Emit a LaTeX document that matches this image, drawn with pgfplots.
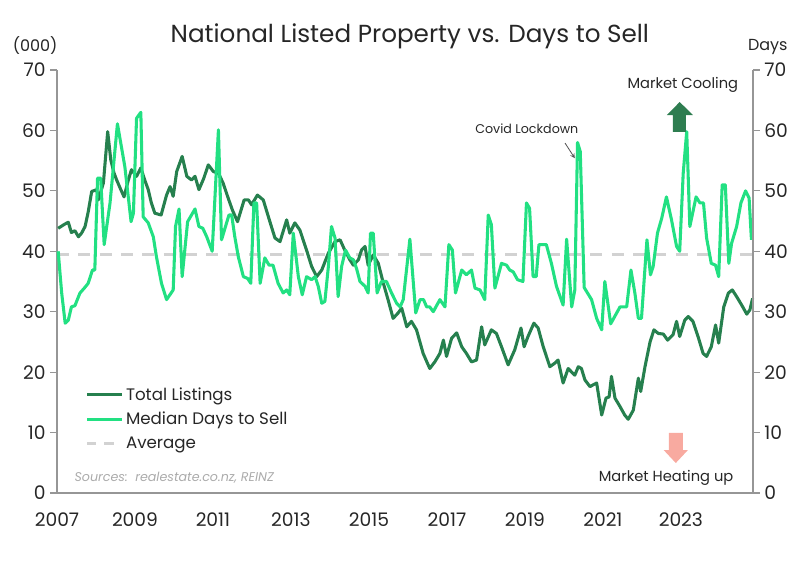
\documentclass[border=0pt]{standalone}
\usepackage{fontspec}
\setmainfont{Poppins}
\usepackage{pgfplots}
\pgfplotsset{compat=1.18}
\definecolor{dk}{RGB}{38,128,78}
\definecolor{lt}{RGB}{34,224,130}
\definecolor{avg}{RGB}{210,210,210}
\definecolor{axg}{RGB}{150,150,150}
\definecolor{txt}{RGB}{38,38,38}
\definecolor{uparrow}{RGB}{46,125,80}
\definecolor{dnarrow}{RGB}{248,170,160}
\begin{document}
\begin{tikzpicture}
\begin{axis}[name=ax,
  width=522pt, height=317.25pt, scale only axis,
  xmin=2007, xmax=2024.85, ymin=0, ymax=70,
  axis x line*=bottom, axis y line*=left,
  axis line style={draw=axg, line width=0.8pt},
  xtick={2007,2009,...,2023}, ytick={0,10,...,70},
  xtick style={draw=none},
  ytick style={draw=axg, line width=0.8pt},
  tick align=outside, major tick length=5pt,
  /pgf/number format/1000 sep={},
  /pgf/number format/assume math mode=true,
  ticklabel style={font=\fontsize{14}{16}\selectfont, text=txt},
  xticklabel style={yshift=-6pt},
  clip=false,
  legend style={at={(0.035,0.263)}, anchor=north west, draw=none, fill=none,
     font=\fontsize{12.5}{15}\selectfont, text=txt, row sep=3.5pt},
  legend cell align=left,
  legend image code/.code={\draw[#1] (0pt,0pt) -- (26pt,0pt);},
]
\addplot[avg, line width=2.2pt, dash pattern=on 9pt off 7pt, forget plot] coordinates {(2007,39.4) (2024.85,39.4)};
\addplot[dk, line width=2.3pt, line join=round] coordinates {
(2007.03,43.8) (2007.20,44.5) (2007.29,44.8) (2007.37,43.1) (2007.46,43.4) (2007.55,42.4) (2007.63,43.0) (2007.72,44.1) (2007.80,46.5) (2007.89,49.9)
(2008.02,50.2) (2008.06,48.5) (2008.19,51.3) (2008.30,59.8) (2008.38,55.1) (2008.46,53.0) (2008.53,51.8) (2008.63,50.3) (2008.72,49.0) (2008.83,51.8) (2008.91,53.5)
(2009.04,52.4) (2009.15,53.8) (2009.25,51.8) (2009.34,50.2) (2009.42,48.0) (2009.51,46.3) (2009.67,46.0) (2009.81,49.3) (2009.90,50.7) (2009.98,49.1)
(2010.07,53.2) (2010.21,55.7) (2010.33,52.4) (2010.45,51.8) (2010.54,52.4) (2010.64,50.2) (2010.76,52.0) (2010.88,54.3)
(2011.01,53.2) (2011.14,52.9) (2011.26,51.3) (2011.39,48.8) (2011.50,46.8) (2011.63,44.9) (2011.80,48.5) (2011.91,48.5) (2011.99,47.7)
(2012.14,49.3) (2012.29,48.5) (2012.46,44.9) (2012.59,42.2) (2012.72,41.6) (2012.89,45.2) (2012.97,43.0)
(2013.10,44.7) (2013.23,43.5) (2013.40,40.2) (2013.53,37.5) (2013.66,35.8) (2013.79,36.9) (2013.96,39.7)
(2014.13,41.6) (2014.26,41.9) (2014.38,40.2) (2014.51,38.6) (2014.60,37.7) (2014.73,38.6) (2014.81,40.2) (2014.90,40.8) (2014.98,37.7)
(2015.11,39.4) (2015.24,38.0) (2015.37,34.7) (2015.49,32.0) (2015.62,28.9) (2015.75,29.8) (2015.84,30.6) (2015.97,27.5)
(2016.09,28.4) (2016.22,27.0) (2016.39,23.1) (2016.56,20.6) (2016.69,21.7) (2016.82,23.1) (2016.91,25.3) (2016.99,22.6)
(2017.12,25.6) (2017.25,26.5) (2017.38,24.2) (2017.50,23.1) (2017.63,21.7) (2017.76,22.0) (2017.89,27.5) (2017.97,24.5)
(2018.14,27.0) (2018.27,26.4) (2018.40,24.2) (2018.57,21.2) (2018.74,23.7) (2018.90,27.3) (2018.98,24.2)
(2019.08,25.9) (2019.23,28.1) (2019.34,27.3) (2019.47,24.2) (2019.64,20.9) (2019.77,21.5) (2019.85,22.0) (2019.98,18.2)
(2020.11,20.6) (2020.20,20.0) (2020.28,19.5) (2020.37,20.9) (2020.45,20.6) (2020.54,18.7) (2020.67,17.6) (2020.75,17.9) (2020.84,18.2) (2020.97,12.9)
(2021.08,15.7) (2021.16,15.9) (2021.22,19.3) (2021.31,15.7) (2021.44,14.3) (2021.56,12.9) (2021.65,12.2) (2021.78,13.7) (2021.91,19.0) (2021.97,16.8)
(2022.08,20.9) (2022.21,25.0) (2022.31,27.0) (2022.42,26.4) (2022.55,26.3) (2022.66,25.3) (2022.80,26.2) (2022.89,28.4) (2022.97,25.9)
(2023.10,28.6) (2023.19,29.2) (2023.31,28.4) (2023.44,25.9) (2023.57,23.1) (2023.66,22.6) (2023.78,24.2) (2023.89,27.8) (2023.97,24.8)
(2024.10,30.8) (2024.22,33.1) (2024.32,33.6) (2024.43,32.5) (2024.56,31.1) (2024.69,29.6) (2024.77,30.3) (2024.84,32.2)
};
\addlegendentry{Total Listings}
\addplot[lt, line width=2.3pt, line join=round] coordinates {
(2007.03,40.0) (2007.12,33.1) (2007.21,28.1) (2007.29,28.6) (2007.37,30.8) (2007.46,31.0) (2007.59,33.1) (2007.70,33.9) (2007.80,34.7) (2007.91,36.9) (2007.97,36.9)
(2008.04,52.1) (2008.12,52.1) (2008.21,41.1) (2008.36,48.0) (2008.55,61.1) (2008.74,54.0) (2008.90,44.9) (2008.96,46.3)
(2009.04,62.0) (2009.15,63.0) (2009.21,45.7) (2009.34,44.7) (2009.47,42.4) (2009.55,39.1) (2009.68,34.7) (2009.81,32.0) (2009.98,33.6)
(2010.04,44.1) (2010.13,47.0) (2010.21,35.8) (2010.35,44.9) (2010.54,47.0) (2010.64,44.1) (2010.74,43.8) (2010.84,42.4) (2010.98,40.0)
(2011.14,60.1) (2011.22,41.9) (2011.41,46.0) (2011.48,46.0) (2011.56,42.4) (2011.65,39.1) (2011.78,35.8) (2011.89,35.5) (2011.97,34.7)
(2012.05,48.0) (2012.12,48.0) (2012.21,34.7) (2012.33,38.9) (2012.44,37.7) (2012.54,37.7) (2012.67,34.7) (2012.80,33.1) (2012.89,33.6) (2012.97,32.8)
(2013.06,43.0) (2013.19,35.8) (2013.29,32.8) (2013.40,35.8) (2013.53,35.3) (2013.62,35.8) (2013.70,34.2) (2013.79,31.4) (2013.87,31.7) (2013.96,37.5)
(2014.04,44.1) (2014.13,42.2) (2014.21,32.5) (2014.30,37.5) (2014.40,40.2) (2014.51,38.9) (2014.60,38.6) (2014.68,37.2) (2014.77,35.0) (2014.90,34.2) (2014.98,33.1)
(2015.04,43.0) (2015.11,43.0) (2015.21,33.1) (2015.32,35.0) (2015.45,35.0) (2015.58,33.1) (2015.71,31.4) (2015.80,30.8) (2015.88,32.0)
(2016.05,42.0) (2016.20,29.8) (2016.31,32.0) (2016.40,32.0) (2016.48,30.8) (2016.56,30.8) (2016.65,30.0) (2016.82,32.0) (2016.95,30.8)
(2017.05,41.1) (2017.14,40.2) (2017.22,33.1) (2017.38,36.9) (2017.50,36.1) (2017.63,36.9) (2017.72,33.9) (2017.85,33.6) (2017.97,32.0)
(2018.06,46.0) (2018.14,44.4) (2018.23,33.9) (2018.40,38.0) (2018.53,37.7) (2018.61,36.9) (2018.70,36.6) (2018.81,35.3) (2018.95,35.0)
(2019.04,48.0) (2019.12,47.1) (2019.21,35.8) (2019.29,35.8) (2019.36,41.1) (2019.55,41.1) (2019.68,38.0) (2019.81,34.2) (2019.98,31.1)
(2020.07,42.0) (2020.20,30.8) (2020.28,33.6) (2020.35,58.0) (2020.42,56.5) (2020.52,34.0) (2020.71,32.0) (2020.84,28.9) (2020.97,27.0)
(2021.05,35.0) (2021.20,28.0) (2021.44,30.8) (2021.61,30.8) (2021.72,36.9) (2021.82,33.1) (2021.91,28.9) (2021.99,28.9)
(2022.13,41.9) (2022.22,36.1) (2022.29,37.5) (2022.40,43.0) (2022.51,45.5) (2022.63,49.0) (2022.76,45.2) (2022.89,40.8) (2022.97,40.0)
(2023.06,52.9) (2023.15,59.8) (2023.23,44.1) (2023.39,49.0) (2023.49,48.0) (2023.58,48.0) (2023.66,42.2) (2023.78,38.0) (2023.89,37.7) (2023.97,35.8)
(2024.06,51.0) (2024.14,51.0) (2024.23,38.0) (2024.30,41.3) (2024.43,44.1) (2024.54,48.0) (2024.66,50.0) (2024.75,48.8) (2024.81,41.9)
};
\addlegendentry{Median Days to Sell}
\addlegendimage{avg, line width=2.2pt, dash pattern=on 7pt off 6pt}
\addlegendentry{Average}
% annotations
\node[font=\fontsize{18.5}{20}\selectfont, text=txt] at (axis cs:2016.05,75.5) {National Listed Property vs. Days to Sell};
\node[font=\fontsize{12}{14}\selectfont, text=txt] at (axis cs:2006.44,74.1) {(000)};
\node[font=\fontsize{12}{14}\selectfont, text=txt] at (axis cs:2025.23,73.8) {Days};
\node[font=\fontsize{11}{13}\selectfont, text=txt] at (axis cs:2023.05,67.5) {Market Cooling};
\node[font=\fontsize{11}{13}\selectfont, text=txt] at (axis cs:2022.62,2.5) {Market Heating up};
\node[font=\fontsize{9.5}{11}\selectfont, text=txt] at (axis cs:2019.05,60.2) {Covid Lockdown};
\node[font=\itshape\fontsize{9.5}{11}\selectfont, text=axg!80, anchor=west] at (axis cs:2007.33,2.6) {Sources:\ \ realestate.co.nz, REINZ};
\draw[->, >=stealth, txt!80, line width=0.6pt] (axis cs:2020.03,57.9) -- (axis cs:2020.28,55.4);
\fill[uparrow] (axis cs:2022.795,59.74) -- (axis cs:2022.795,62.55) -- (axis cs:2022.64,62.55) -- (axis cs:2022.97,64.7) -- (axis cs:2023.31,62.55) -- (axis cs:2023.13,62.55) -- (axis cs:2023.13,59.74) -- cycle;
\fill[dnarrow] (axis cs:2022.69,9.93) -- (axis cs:2022.69,7.1) -- (axis cs:2022.56,7.1) -- (axis cs:2022.87,4.96) -- (axis cs:2023.18,7.1) -- (axis cs:2023.05,7.1) -- (axis cs:2023.05,9.93) -- cycle;
\end{axis}
\begin{axis}[
  width=522pt, height=317.25pt, scale only axis,
  xmin=2007, xmax=2024.85, ymin=0, ymax=70,
  axis x line=none, axis y line*=right,
  axis line style={draw=axg, line width=0.8pt},
  ytick={0,10,...,70},
  ytick style={draw=axg, line width=0.8pt},
  tick align=outside, major tick length=5pt,
  /pgf/number format/assume math mode=true,
  ticklabel style={font=\fontsize{14}{16}\selectfont, text=txt},
]
\addplot[draw=none] coordinates {(2007,0)};
\end{axis}
\pgfresetboundingbox
\path ([xshift=-42.75pt,yshift=-54pt]ax.south west) rectangle ([xshift=35.25pt,yshift=52.5pt]ax.north east);
\end{tikzpicture}
\end{document}
